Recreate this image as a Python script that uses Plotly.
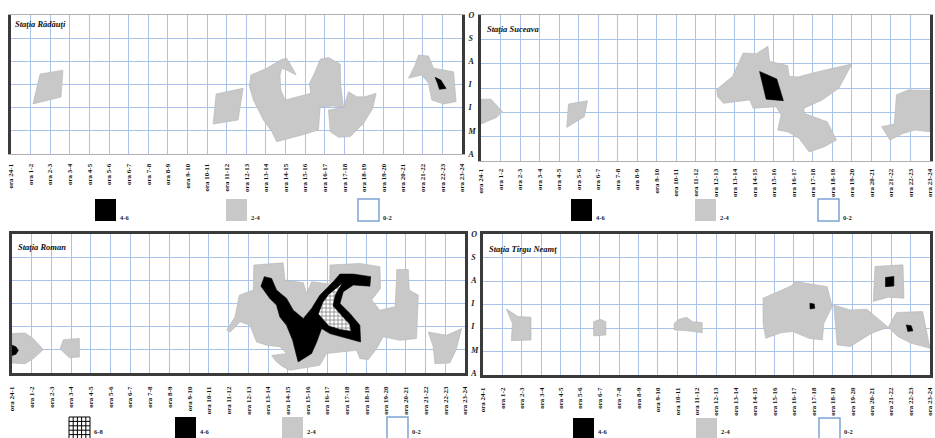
import plotly.graph_objects as go

# Hour intervals along the horizontal axis
HOURS = ["ora 24-1", "ora 1-2", "ora 2-3", "ora 3-4", "ora 4-5", "ora 5-6",
         "ora 6-7", "ora 7-8", "ora 8-9", "ora 9-10", "ora 10-11", "ora 11-12",
         "ora 12-13", "ora 13-14", "ora 14-15", "ora 15-16", "ora 16-17",
         "ora 17-18", "ora 18-19", "ora 19-20", "ora 20-21", "ora 21-22",
         "ora 22-23", "ora 23-24"]

# Months April..October, bottom to top
MONTHS = ["A", "M", "I", "I", "A", "S", "O"]

STATIONS = ["Staţia Rădăuţi", "Staţia Suceava", "Staţia Roman", "Staţia Tîrgu Neamţ"]

CLASSES_3 = ["4-6", "2-4", "0-2"]
CLASSES_4 = ["6-8", "4-6", "2-4", "0-2"]

# Isoline areas as (hour index, month index) vertices
# --- Rădăuţi
RAD_GRAY_1 = [(1.48, 3.45), (2.65, 3.62), (2.55, 2.46), (1.12, 2.16)]
RAD_GRAY_2 = [(10.46, 2.59), (11.84, 2.84), (11.58, 1.47), (10.31, 1.29)]
RAD_GRAY_3 = [(12.23, 3.41), (13.04, 3.70), (13.81, 4.09), (14.06, 4.13), (14.32, 3.77),
              (14.54, 3.41), (14.10, 3.60), (13.81, 3.70), (13.72, 3.41), (13.76, 2.76),
              (13.98, 2.33), (14.74, 2.50), (15.29, 2.62), (15.22, 3.05), (15.51, 3.55),
              (15.77, 4.09), (16.19, 4.17), (16.79, 3.88), (16.82, 2.91), (16.96, 2.01),
              (16.45, 2.07), (15.77, 2.04), (15.68, 1.04), (14.83, 0.82), (13.55, 0.53),
              (13.30, 0.96), (12.87, 1.47), (12.36, 2.33), (12.16, 2.91)]
RAD_GRAY_4 = [(17.21, 2.69), (17.64, 2.47), (18.06, 2.47), (18.62, 2.62), (18.45, 1.97),
              (17.98, 1.32), (17.30, 0.75), (16.70, 0.72), (16.28, 0.96), (16.19, 1.90),
              (16.96, 2.01), (17.13, 2.47)]
RAD_GRAY_5 = [(20.78, 4.27), (21.29, 4.23), (21.55, 3.70), (22.57, 3.55), (22.70, 2.26),
              (22.06, 2.16), (21.46, 2.33), (21.29, 3.05), (20.95, 3.41), (20.27, 3.27),
              (20.61, 3.84)]
RAD_BLACK_1 = [(21.63, 3.31), (21.92, 3.19), (22.19, 2.83), (21.85, 2.79), (21.75, 3.05)]

# --- Suceava
SUC_GRAY_1 = [(0.0, 2.54), (0.51, 2.54), (1.10, 2.03), (0.79, 1.79), (0.0, 1.52)]
SUC_GRAY_2 = [(4.48, 2.34), (5.46, 2.48), (5.29, 1.82), (4.39, 1.38)]
SUC_GRAY_3 = [(12.08, 2.95), (12.89, 3.48), (13.43, 4.44), (14.10, 4.41), (14.70, 4.72),
              (14.78, 4.10), (15.71, 3.92), (15.79, 3.48), (16.22, 3.45), (17.31, 3.68),
              (19.00, 3.99), (18.33, 2.99), (17.48, 2.51), (16.55, 2.17), (16.55, 1.96),
              (17.74, 1.61), (18.21, 0.86), (17.57, 0.58), (16.81, 0.37), (16.30, 0.92),
              (15.71, 1.20), (15.20, 1.27), (15.37, 1.89), (15.12, 2.23), (13.94, 2.17),
              (13.77, 2.51), (12.42, 2.37), (12.11, 2.65)]
SUC_GRAY_4 = [(21.28, 2.72), (21.88, 2.92), (23.0, 2.90), (23.0, 1.20), (22.21, 1.27),
              (21.62, 1.13), (20.95, 0.86), (20.52, 1.41), (21.17, 1.52)]
SUC_BLACK_1 = [(14.27, 3.68), (15.15, 3.37), (15.49, 2.48), (14.61, 2.54)]

# --- Roman
ROM_GRAY_1 = [(0.0, 1.70), (0.66, 1.73), (1.08, 1.49), (1.59, 1.01), (1.08, 0.62),
              (0.66, 0.40), (0.0, 0.43)]
ROM_GRAY_2 = [(2.61, 1.44), (3.42, 1.49), (3.42, 0.69), (2.91, 0.66), (2.44, 1.05)]
ROM_GRAY_3 = [(10.90, 1.85), (11.32, 2.42), (11.54, 3.36), (12.25, 3.58), (12.28, 4.66),
              (13.77, 4.76), (13.86, 4.01), (14.79, 3.90), (14.96, 3.43), (15.21, 3.94),
              (16.14, 3.84), (16.14, 4.66), (17.66, 4.73), (18.68, 4.59), (18.71, 3.65),
              (18.26, 3.15), (18.68, 2.71), (19.45, 2.86), (19.53, 4.16), (19.53, 4.47),
              (20.12, 4.47), (20.17, 3.58), (20.63, 3.36), (20.58, 2.14), (20.54, 1.49),
              (19.70, 1.41), (18.85, 1.56), (18.51, 1.05), (18.09, 0.58), (17.66, 0.62),
              (17.50, 0.98), (15.97, 0.84), (15.63, 0.33), (14.62, 0.19), (14.11, 0.12),
              (13.77, 0.26), (13.43, 0.48), (13.18, 0.76), (13.94, 0.84), (13.60, 1.13),
              (12.93, 1.20), (12.42, 1.34), (12.08, 2.06), (11.58, 2.21), (11.08, 1.77)]
ROM_GRAY_4 = [(21.13, 1.77), (22.06, 1.63), (22.83, 1.92), (22.54, 0.98), (22.23, 0.43),
              (21.47, 0.40), (21.39, 1.13)]
ROM_BLACK_1 = [(0.0, 1.20), (0.20, 1.13), (0.32, 0.98), (0.20, 0.81), (0.0, 0.76)]
ROM_BLACK_2 = [(12.81, 4.16), (13.18, 4.08), (13.43, 3.58), (13.94, 3.22), (14.28, 2.71),
               (14.79, 2.35), (15.21, 2.78), (15.63, 3.36), (16.31, 3.94), (16.65, 4.27),
               (17.33, 4.27), (18.21, 4.16), (18.17, 3.75), (17.33, 3.80), (16.82, 3.51),
               (16.65, 3.00), (17.16, 2.57), (17.66, 2.06), (17.70, 1.34), (16.99, 1.49),
               (16.14, 1.70), (15.72, 1.92), (15.47, 1.34), (15.21, 0.84), (14.53, 0.48),
               (14.42, 0.84), (14.25, 1.41), (13.94, 2.06), (13.60, 2.42), (13.43, 2.93),
               (13.09, 3.22), (12.64, 3.75)]
ROM_HATCH_1 = [(15.55, 2.55), (15.78, 3.05), (16.08, 3.40), (16.48, 3.68), (16.78, 3.88),
               (16.42, 3.38), (16.30, 2.90), (16.70, 2.52), (17.15, 2.10), (17.22, 1.80),
               (16.65, 1.88), (16.08, 2.03), (15.78, 2.30)]

# --- Tîrgu Neamţ
NEA_GRAY_1 = [(1.20, 2.81), (1.80, 2.49), (2.47, 2.46), (2.47, 1.49), (1.46, 1.46), (1.51, 2.20)]
NEA_GRAY_2 = [(5.69, 2.27), (6.03, 2.37), (6.32, 2.27), (6.32, 1.70), (5.69, 1.66)]
NEA_GRAY_3 = [(9.84, 2.20), (10.09, 2.37), (10.48, 2.46), (10.77, 2.27), (11.28, 2.23),
              (11.28, 1.80), (10.52, 1.88), (9.84, 1.92)]
NEA_GRAY_4 = [(14.41, 3.27), (15.17, 3.55), (15.85, 3.79), (16.02, 3.93), (16.07, 3.98),
              (16.78, 3.88), (17.71, 3.76), (17.97, 2.91), (17.54, 2.20), (17.46, 1.49),
              (16.78, 1.56), (15.94, 1.85), (15.34, 1.80), (14.55, 1.56), (14.41, 2.20)]
NEA_GRAY_5 = [(18.05, 2.98), (18.90, 2.77), (19.75, 2.80), (20.85, 2.03), (20.00, 1.78),
              (18.90, 1.21), (18.22, 1.28), (18.14, 2.20)]
NEA_GRAY_6 = [(20.85, 2.03), (21.27, 2.66), (22.62, 2.70), (23.0, 1.14), (22.03, 1.35),
              (21.36, 1.63)]
NEA_GRAY_7 = [(20.17, 4.62), (21.61, 4.69), (21.66, 3.27), (20.85, 3.31), (20.08, 3.13),
              (20.14, 3.84)]
NEA_BLACK_1 = [(16.82, 3.05), (17.04, 3.02), (17.07, 2.84), (16.83, 2.81)]
NEA_BLACK_2 = [(21.78, 2.13), (22.03, 2.10), (22.12, 1.88), (21.86, 1.85)]
NEA_BLACK_3 = [(20.71, 4.15), (21.14, 4.19), (21.14, 3.79), (20.71, 3.76)]

W, H = 935, 438
GRID = "#a9c4e8"
GRAY = "#c8c8c8"
FRAME = "#3a3a3a"
SERIF = "Liberation Serif, Times New Roman, serif"


def px_x(p):
    return p / W


def px_y(p):
    return 1 - p / H


fig = go.Figure()


def area(poly, axis_id, fill, pattern=None):
    xs = [p[0] for p in poly] + [poly[0][0]]
    ys = [p[1] for p in poly] + [poly[0][1]]
    kw = dict(x=xs, y=ys, mode="lines", fill="toself", fillcolor=fill,
              line=dict(color="#b4b4b4" if fill == GRAY else "#000", width=0.6),
              hoverinfo="skip", showlegend=False,
              xaxis="x" + axis_id, yaxis="y" + axis_id)
    if pattern:
        kw["fillpattern"] = pattern
        kw["line"] = dict(color="#000", width=0.6)
    fig.add_trace(go.Scatter(**kw))


panels = [
    ("", [RAD_GRAY_1, RAD_GRAY_2, RAD_GRAY_3, RAD_GRAY_4, RAD_GRAY_5], [RAD_BLACK_1], []),
    ("2", [SUC_GRAY_1, SUC_GRAY_2, SUC_GRAY_3, SUC_GRAY_4], [SUC_BLACK_1], []),
    ("3", [ROM_GRAY_1, ROM_GRAY_2, ROM_GRAY_3, ROM_GRAY_4], [ROM_BLACK_1, ROM_BLACK_2], [ROM_HATCH_1]),
    ("4", [NEA_GRAY_1, NEA_GRAY_2, NEA_GRAY_3, NEA_GRAY_4, NEA_GRAY_5, NEA_GRAY_6, NEA_GRAY_7],
     [NEA_BLACK_1, NEA_BLACK_2, NEA_BLACK_3], []),
]

hatch = dict(shape="+", fgcolor="#000", bgcolor="#fff", size=4, solidity=0.35)

for aid, grays, blacks, hatches in panels:
    for poly in grays:
        area(poly, aid, GRAY)
    for poly in blacks:
        area(poly, aid, "#000")
    for poly in hatches:
        area(poly, aid, "#fff", pattern=hatch)

# plot-area boxes in pixels: left, right, top, bottom
boxes = [(11, 462, 15, 154), (481, 930, 15, 161), (12, 465, 234, 373), (483, 930, 234, 375)]
x_frames = [("#b0b0b0", 1), ("#b0b0b0", 1), (FRAME, 2.5), (FRAME, 2.5)]
y_frames = [(FRAME, 3), (FRAME, 3), (FRAME, 2.5), (FRAME, 2.5)]
label_gap = [6, 4, 8, 7]
month_labels = [True, False, True, False]

layout = {}
for i, (l, r, t, b) in enumerate(boxes):
    aid = "" if i == 0 else str(i + 1)
    layout["xaxis" + aid] = dict(
        domain=[px_x(l), px_x(r)], anchor="y" + aid, range=[0, 23], automargin=False,
        tickmode="array", tickvals=list(range(24)), ticktext=HOURS, tickangle=-90,
        tickfont=dict(family=SERIF, size=7, color="#111", weight="bold"),
        showgrid=True, gridcolor=GRID, gridwidth=1, zeroline=False,
        showline=True, linecolor=x_frames[i][0], linewidth=x_frames[i][1], mirror=True,
        ticks="outside", ticklen=label_gap[i], tickcolor="rgba(0,0,0,0)", fixedrange=True)
    layout["yaxis" + aid] = dict(
        domain=[px_y(b), px_y(t)], anchor="x" + aid, range=[0, 6], side="right",
        automargin=False, showticklabels=month_labels[i],
        tickmode="array", tickvals=list(range(7)), ticktext=MONTHS,
        tickfont=dict(family=SERIF, size=8, color="#222", weight="bold", style="italic"),
        showgrid=True, gridcolor=GRID, gridwidth=1, zeroline=False,
        showline=True, linecolor=y_frames[i][0], linewidth=y_frames[i][1], mirror=True,
        ticks="outside", ticklen=2, tickcolor="rgba(0,0,0,0)", fixedrange=True)

# station names inside each panel
title_pos = [(13, 24), (485, 29), (16, 247), (487, 249)]
annotations = []
for name, (tx, ty) in zip(STATIONS, title_pos):
    annotations.append(dict(
        text="<b><i>%s</i></b>" % name, x=px_x(tx), y=px_y(ty), xref="paper", yref="paper",
        xanchor="left", yanchor="middle", showarrow=False,
        font=dict(family=SERIF, size=8.5, color="#111")))

# class keys under each panel
shapes = []
key_rows = [
    (CLASSES_3, [95, 226, 358], 199),
    (CLASSES_3, [571, 695, 818], 199),
    (CLASSES_4, [69, 175, 282, 387], 417),
    (CLASSES_3, [573, 696, 819], 418),
]
swatch_style = {"6-8": "hatch", "4-6": "#000", "2-4": GRAY, "0-2": "blank"}
SW = 21
for labels, xs, top in key_rows:
    for lab, x0 in zip(labels, xs):
        style = swatch_style[lab]
        x1, y0, y1 = x0 + SW, top, top + 22
        rect = dict(type="rect", xref="paper", yref="paper",
                    x0=px_x(x0), x1=px_x(x1), y0=px_y(y1), y1=px_y(y0))
        if style == "blank":
            rect.update(fillcolor="#fff", line=dict(color="#7da2d6", width=1.5))
        elif style == "hatch":
            rect.update(fillcolor="#fff", line=dict(color="#000", width=1))
        else:
            rect.update(fillcolor=style, line=dict(width=0))
        shapes.append(rect)
        if style == "hatch":
            step = SW / 5
            for k in range(1, 5):
                shapes.append(dict(type="line", xref="paper", yref="paper",
                                   x0=px_x(x0 + k * step), x1=px_x(x0 + k * step),
                                   y0=px_y(y1), y1=px_y(y0), line=dict(color="#000", width=1)))
                shapes.append(dict(type="line", xref="paper", yref="paper",
                                   x0=px_x(x0), x1=px_x(x1),
                                   y0=px_y(y0 + k * 22 / 5), y1=px_y(y0 + k * 22 / 5),
                                   line=dict(color="#000", width=1)))
        label_y = min(y1 - 4, 431)
        annotations.append(dict(
            text="<b>%s</b>" % lab, x=px_x(x1 + 2), y=px_y(label_y), xref="paper", yref="paper",
            xanchor="left", yanchor="middle", showarrow=False,
            font=dict(family=SERIF, size=6.5, color="#222")))

fig.update_layout(
    width=W, height=H, margin=dict(l=0, r=0, t=0, b=0, autoexpand=False),
    paper_bgcolor="#fff", plot_bgcolor="#fff",
    showlegend=False, annotations=annotations, shapes=shapes, **layout)

fig.write_html("out.html", config={"displayModeBar": False})
